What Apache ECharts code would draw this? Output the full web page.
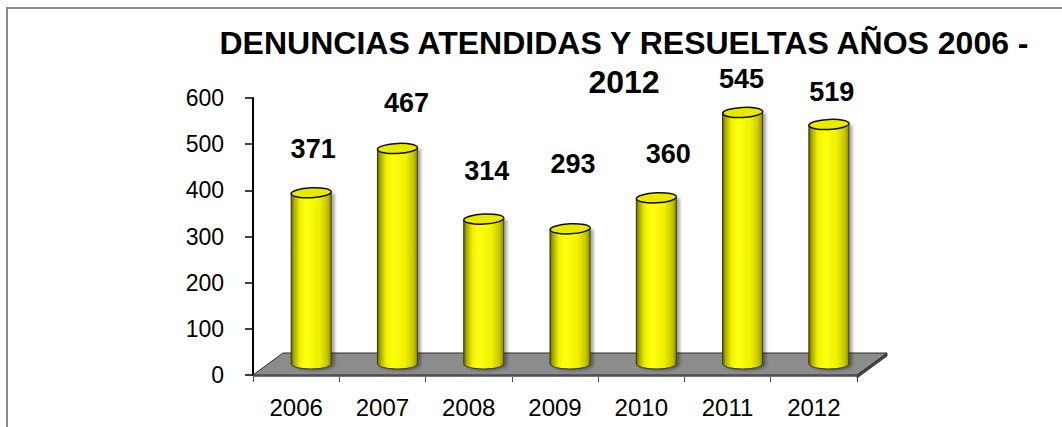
<!DOCTYPE html>
<html><head><meta charset="utf-8">
<script src="https://cdn.jsdelivr.net/npm/echarts@6/dist/echarts.min.js"></script>
<style>html,body{margin:0;padding:0;background:#fff}#c{width:1062px;height:427px}</style>
</head><body><div id="c"></div>
<script>
const titleLine1 = 'DENUNCIAS ATENDIDAS Y RESUELTAS AÑOS 2006 -';
const titleLine2 = '2012';
const years = ['2006', '2007', '2008', '2009', '2010', '2011', '2012'];
const values = [371, 467, 314, 293, 360, 545, 519];
const yTicks = [0, 100, 200, 300, 400, 500, 600];

// styling: manual label nudges (dx, lift) like the original's hand-placed labels
const labelDx = [2, 9, 3, 3, 12, -1, 3];
const labelLift = [44, 45, 48, 65, 44, 33, 32];

const FONT = "'Liberation Sans', Arial, sans-serif";
const DEPTH_X = 30, DEPTH_Y = 22, BAR_W = 40, ELL_RY = 5;

const chart = echarts.init(document.getElementById('c'), null, {renderer: 'svg'});

function floorItem(params, api) {
  const cs = params.coordSys;
  const x0 = cs.x, x1 = cs.x + cs.width, y0 = cs.y + cs.height;
  return {
    type: 'group',
    children: [
      {type: 'polygon', shape: {points: [[x1, y0], [x1 + DEPTH_X, y0 - DEPTH_Y], [x1 + DEPTH_X, y0 - DEPTH_Y + 3], [x1, y0 + 3]]},
        style: {fill: '#4a4a4a', stroke: '#222', lineWidth: 0.8}},
      {type: 'polygon', shape: {points: [[x0, y0], [x1, y0], [x1, y0 + 2], [x0, y0 + 2]]},
        style: {fill: '#777', stroke: null}},
      {type: 'polygon', shape: {points: [[x0, y0], [x1, y0], [x1 + DEPTH_X, y0 - DEPTH_Y], [x0 + DEPTH_X, y0 - DEPTH_Y]]},
        style: {fill: '#8c8c8c', stroke: '#2a2a2a', lineWidth: 1}}
    ]
  };
}

function barItem(params, api) {
  const i = api.value(0), v = api.value(1);
  const base = api.coord([i, 0]);
  const top = api.coord([i, v]);
  const cx = base[0] + DEPTH_X / 2;
  const by = base[1] - DEPTH_Y / 2;
  const ty = top[1] - DEPTH_Y / 2;
  const rx = BAR_W / 2;
  const l = cx - rx, r = cx + rx;
  const body = 'M' + l + ' ' + ty + ' L' + l + ' ' + by +
    ' A' + rx + ' ' + ELL_RY + ' 0 0 0 ' + r + ' ' + by +
    ' L' + r + ' ' + ty + ' Z';
  const grad = new echarts.graphic.LinearGradient(0, 0, 1, 0, [
    {offset: 0, color: '#5e5e00'},
    {offset: 0.07, color: '#a8a800'},
    {offset: 0.22, color: '#f2f200'},
    {offset: 0.4, color: '#ffff10'},
    {offset: 0.7, color: '#f0f000'},
    {offset: 0.9, color: '#c4c400'},
    {offset: 1, color: '#8c8c00'}
  ]);
  const idx = params.dataIndex;
  return {
    type: 'group',
    children: [
      {type: 'path', shape: {pathData: body},
        style: {fill: grad, stroke: '#3a3a10', lineWidth: 1,
          shadowColor: 'rgba(0,0,0,0.35)', shadowBlur: 3, shadowOffsetX: 3, shadowOffsetY: 1}},
      {type: 'ellipse', shape: {cx: cx, cy: ty, rx: rx, ry: ELL_RY}, rotation: 0.05, originX: cx, originY: ty,
        style: {fill: '#e8e800', stroke: '#111', lineWidth: 1.5}},
      {type: 'text', x: cx + labelDx[idx], y: ty - labelLift[idx],
        style: {text: String(v), font: 'bold 27px ' + FONT, lineHeight: 22, fill: '#000', align: 'center', verticalAlign: 'middle'}}
    ]
  };
}

chart.setOption({
  backgroundColor: '#fff',
  animation: false,
  title: {
    text: titleLine1, subtext: titleLine2, left: 624, top: 28, textAlign: 'center', padding: 0, itemGap: 7,
    textStyle: {fontFamily: FONT, fontWeight: 'bold', fontSize: 32, lineHeight: 30, color: '#000'},
    subtextStyle: {fontFamily: FONT, fontWeight: 'bold', fontSize: 32, lineHeight: 30, color: '#000'}
  },
  graphic: [
    {type: 'rect', shape: {x: 7, y: 8, width: 1200, height: 600}, style: {fill: 'none', stroke: '#8a8a8a', lineWidth: 2}, z: -10}
  ],
  grid: {left: 253, right: 205, top: 98, bottom: 52, containLabel: false},
  xAxis: {
    type: 'category', data: years, boundaryGap: true, offset: 2,
    axisLine: {lineStyle: {color: '#999', width: 1.5}},
    axisTick: {show: true, length: 7, lineStyle: {color: '#444', width: 1}},
    axisLabel: {fontFamily: FONT, fontSize: 24, color: '#000', margin: 18},
    splitLine: {show: false}
  },
  yAxis: {
    type: 'value', min: yTicks[0], max: yTicks[yTicks.length - 1], interval: yTicks[1] - yTicks[0],
    axisLine: {show: true, lineStyle: {color: '#000', width: 2}},
    axisTick: {show: true, length: 8, lineStyle: {color: '#000', width: 1.5}},
    axisLabel: {fontFamily: FONT, fontSize: 23, color: '#000', margin: 29},
    splitLine: {show: false}
  },
  series: [
    {type: 'custom', renderItem: floorItem, data: [[0, 0]], z: 1, silent: true},
    {type: 'custom', renderItem: barItem, data: values.map((v, i) => [i, v]), z: 2}
  ]
});
</script></body></html>
